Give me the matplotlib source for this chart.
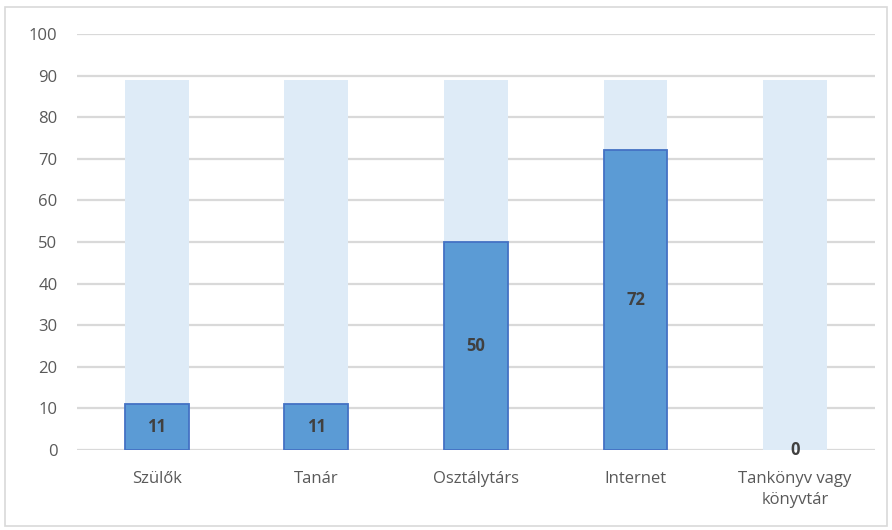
import matplotlib.pyplot as plt
from matplotlib.patches import Rectangle

categories = ['Szülők', 'Tanár', 'Osztálytárs', 'Internet', 'Tankönyv vagy\nkönyvtár']
values = [11, 11, 50, 72, 0]
background = [89, 89, 89, 89, 89]
yticks = [0, 10, 20, 30, 40, 50, 60, 70, 80, 90, 100]

plt.rcParams['font.family'] = ['Open Sans', 'DejaVu Sans']

fig = plt.figure(figsize=(8.92, 5.30), dpi=100)
ax = fig.add_axes([0.0863, 0.151, 0.8946, 0.785])

x = list(range(len(categories)))
ax.bar(x, background, width=0.4, color='#DEEBF7', zorder=2)
# no outline for empty bars
widths = [1.3 if v > 0 else 0 for v in values]
ax.bar(x, values, width=0.4, color='#5B9BD5', edgecolor='#4472C4', linewidth=widths, zorder=3)

for xi, v in zip(x, values):
    ax.text(xi, v / 2, str(v), ha='center', va='center', fontsize=12,
            fontweight='bold', color='#404040', zorder=4)

ax.set_xlim(-0.5, len(categories) - 0.5)
ax.set_ylim(0, 100)
ax.set_yticks(yticks)
ax.set_xticks(x)
ax.set_xticklabels(categories, fontsize=12, color='#595959', linespacing=1.45)
ax.tick_params(axis='y', labelsize=12, labelcolor='#595959', length=0, pad=14)
ax.tick_params(axis='x', length=0, pad=15)
ax.grid(axis='y', color='#D9D9D9', linewidth=1.6, zorder=0)
ax.set_axisbelow(True)
for s in ax.spines.values():
    s.set_visible(False)

fig.patches.append(Rectangle((0.006, 0.008), 0.988, 0.978, transform=fig.transFigure,
                             fill=False, edgecolor='#D9D9D9', linewidth=1.2))

fig.savefig('out.png', dpi=100)
